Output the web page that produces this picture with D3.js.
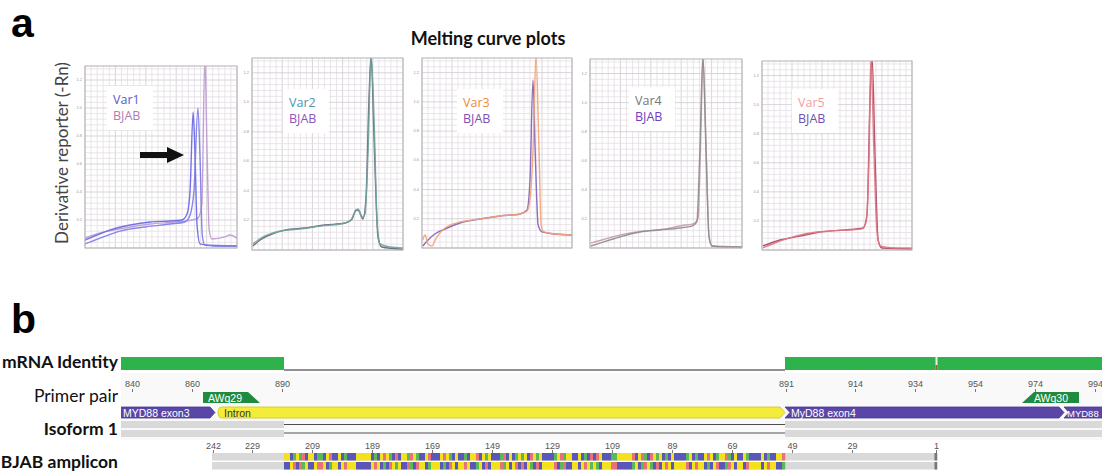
<!DOCTYPE html>
<html>
<head>
<meta charset="utf-8">
<script src="https://cdn.jsdelivr.net/npm/d3@7"></script>
<style>
body { margin: 0; background: #fff; }
svg { display: block; }
</style>
</head>
<body>
<svg id="fig" width="1102" height="472"></svg>
<script>
// ---------- panel a: melting curves, [temperature, -dRn] ----------
var var1A = [[60,0.057],[62.3,0.086],[65.8,0.129],[70.4,0.164],[75,0.186],[79.6,0.193],[82.3,0.2],[83.5,0.243],[84.2,0.414],[84.9,0.971],[85.3,0.7],[85.8,0.164],[86.5,0.029],[89.9,0.014],[95,0.014]];
var var1B = [[60,0.029],[63.5,0.071],[68.1,0.121],[73.8,0.15],[79.6,0.171],[83,0.186],[84.2,0.236],[85.1,0.414],[86,1.0],[86.5,0.629],[87,0.093],[87.6,0.021],[95,0.014]];
var bjab1 = [[60,0.071],[63.5,0.107],[69.2,0.143],[75,0.171],[80.7,0.186],[84.6,0.2],[86,0.214],[86.9,0.307],[87.6,1.36],[88.1,0.7],[88.6,0.129],[89.2,0.064],[92.2,0.079],[93.4,0.093],[95,0.071]];

var var2 = [[60.2,0.041],[61.4,0.068],[63,0.095],[66.5,0.129],[71.1,0.142],[75.8,0.162],[80.4,0.176],[82.7,0.196],[83.9,0.257],[84.6,0.278],[85.5,0.223],[86.2,0.244],[86.9,0.663],[87.6,1.32],[88.3,0.88],[89,0.19],[89.7,0.041],[92,0.02],[95,0.014]];
var bjab2 = [[60.2,0.027],[61.9,0.068],[64.2,0.102],[67.6,0.135],[72.3,0.149],[76.9,0.169],[81.6,0.183],[83.2,0.21],[84.1,0.271],[84.8,0.264],[85.7,0.21],[86.4,0.339],[87.1,1.01],[87.6,1.32],[88.3,0.745],[89.2,0.088],[90.1,0.02],[95,0.005]];

var var3 = [[60.2,0.055],[60.7,0.089],[61.4,0.027],[62.3,0.014],[63.3,0.068],[65.4,0.137],[68.9,0.178],[73.5,0.198],[78.2,0.219],[82.9,0.233],[84.5,0.253],[85.2,0.328],[85.9,0.67],[86.6,1.32],[87.3,0.67],[87.8,0.157],[88.5,0.11],[91,0.096],[95,0.089]];
var bjab3 = [[60.2,0.014],[61.4,0.055],[63,0.096],[65.4,0.13],[68.9,0.171],[73.5,0.198],[78.2,0.219],[82.9,0.233],[84.5,0.26],[85.2,0.465],[85.9,1.15],[86.4,0.67],[87.1,0.157],[88,0.11],[91,0.096],[95,0.089]];

var var4 = [[60.2,0.014],[62.3,0.034],[66.9,0.076],[71.5,0.11],[76.1,0.124],[80.7,0.138],[83.5,0.151],[84.6,0.179],[85.3,0.674],[86,1.32],[86.7,0.674],[87.4,0.089],[88.1,0.014],[91.1,0.007],[95,0.007]];
var bjab4 = [[60.2,0.034],[63.5,0.062],[68.1,0.096],[72.7,0.117],[77.3,0.131],[81.9,0.158],[83.7,0.165],[84.9,0.206],[85.6,0.88],[86,1.32],[86.7,0.74],[87.4,0.069],[88.1,0.014],[95,0.007]];

var var5 = [[60.2,0.014],[63,0.048],[66.5,0.083],[71.2,0.117],[75.9,0.131],[80.5,0.138],[83.3,0.145],[84.3,0.193],[85,0.688],[85.4,1.32],[86.1,0.688],[86.8,0.138],[87.5,0.028],[91,0.014],[95,0.014]];
var bjab5 = [[60.2,0.028],[64.2,0.069],[68.9,0.096],[73.5,0.124],[79.4,0.138],[83.6,0.151],[84.5,0.241],[85.2,1.03],[85.7,1.32],[86.4,0.62],[87.1,0.069],[88,0.014],[95,0.007]];

var sampleNames = ['Var1', 'Var2', 'Var3', 'Var4', 'Var5'];
var sampleCurves = [[var1A, var1B], [var2], [var3], [var4], [var5]];
var bjabCurves = [bjab1, bjab2, bjab3, bjab4, bjab5];
var yTickValues = [0.2, 0.4, 0.6, 0.8, 1.0, 1.2];

// ---------- panel b: alignment track ----------
var mrnaTicks = [840, 860, 890, 891, 914, 934, 954, 974, 994];
var ampliconTicks = [242, 229, 209, 189, 169, 149, 129, 109, 89, 69, 49, 29, 1];
var identityMismatch = [941];
var primerNames = ['AWq29', 'AWq30'];
var primerFrom = [864, 970];
var primerTo = [882, 988];
var featureNames = ['MYD88 exon3', 'Intron', 'MyD88 exon4', 'MYD88'];
var featureCols = [[-5, 32], [34, 222], [223, 315], [316, 340]];
var exonCols = [[-5, 55], [223, 340]];
var ampliconStart = 242, ampliconEnd = 1;
var ampliconSeq = 'GGCTGTACGGCTTCGACCGCTCCCGGGGGCTCGAGTCACGGTA' +
                  'GTCCGACCCGAGTCGCCTCGGACGTGCCCTACGCTGTGCAGT' +
                  'GCCCCTGATGGCCGCTCACAGCCCTTGGGGGACGATCAGTGC' +
                  'TCGCCCCTGCTCCGAGCTGGATCGCCGTCCCCGCTCCGGA';

// ---------- layout ----------
var svg = d3.select('#fig');
var boxes = [[85,66,237,248],[252,58,403,250],[422,58,572,248],[590,59,742,248],[762,61,912,250]];
var labelPos = [[113,104],[289,107],[463,107],[635,105],[798,107]];
var sampleColors = [['#6464e4','#7a7ae8'],['#6fa39a'],['#f2a274'],['#8c8c8c'],['#e07884']];
var bjabColors = ['#c2a2d6','#6e6e80','#8a6ec0','#caa6b6','#b0566e'];
var nameColors = ['#5a5ad0','#4f94b0','#ee8a3a','#777777','#f0a0a0'];
var bjabNameColors = ['#b47ab4','#8e55b8','#8050b0','#7040c0','#7050b0'];

svg.append('text').attr('x', 11).attr('y', 37)
    .style('font', 'bold 41px "Liberation Sans"').text('a');
svg.append('text').attr('x', 11).attr('y', 333)
    .style('font', 'bold 41px "Liberation Sans"').text('b');

svg.append('text').attr('x', 488).attr('y', 45).attr('text-anchor', 'middle')
    .style('font', 'bold 18px Lato').attr('fill', '#111').text('Melting curve plots');

svg.append('text')
    .attr('transform', 'translate(68,153) rotate(-90)')
    .attr('text-anchor', 'middle')
    .style('font', '17px Lato').attr('fill', '#444')
    .text('Derivative reporter (-Rn)');

var defs = svg.append('defs');

boxes.forEach(function(b, i){
    var x = d3.scaleLinear().domain([60, 95]).range([b[0], b[2]]);
    var y = d3.scaleLinear().domain([0, 1.3]).range([b[3], b[1]]);
    var g = svg.append('g');

    defs.append('clipPath').attr('id', 'clip' + i)
        .append('rect').attr('x', b[0]).attr('y', b[1])
        .attr('width', b[2] - b[0]).attr('height', b[3] - b[1]);

    g.append('rect').attr('x', b[0]).attr('y', b[1])
        .attr('width', b[2] - b[0]).attr('height', b[3] - b[1]).attr('fill', '#fff');

    // grid
    var xs = d3.range(0, 26).map(function(k){ return 60 + k * 1.4; });
    var ys = d3.range(0, 33).map(function(k){ return k * 0.04; });
    g.selectAll('.vg').data(xs).enter().append('line')
        .attr('x1', function(d){ return x(d); }).attr('x2', function(d){ return x(d); })
        .attr('y1', b[1]).attr('y2', b[3])
        .attr('stroke', function(d, k){ return k % 5 == 0 ? '#cfcacf' : '#e4dee4'; })
        .attr('stroke-width', 0.8);
    g.selectAll('.hg').data(ys).enter().append('line')
        .attr('y1', function(d){ return y(d); }).attr('y2', function(d){ return y(d); })
        .attr('x1', b[0]).attr('x2', b[2])
        .attr('stroke', function(d, k){ return k % 5 == 0 ? '#cfcacf' : '#e4dee4'; })
        .attr('stroke-width', 0.8);

    // tiny tick labels
    g.selectAll('.yl').data(yTickValues).enter().append('text')
        .attr('x', b[0] - 3).attr('y', function(d){ return y(d) + 1; })
        .attr('text-anchor', 'end')
        .style('font', '4px "Liberation Sans"').attr('fill', '#999')
        .text(function(d){ return d.toFixed(1); });

    // label block
    var lp = labelPos[i];
    g.append('rect').attr('x', lp[0] - 6).attr('y', lp[1] - 18)
        .attr('width', 46).attr('height', 44).attr('fill', '#fff');
    g.append('text').attr('x', lp[0]).attr('y', lp[1])
        .style('font', '12.5px "Open Sans"').attr('fill', nameColors[i]).text(sampleNames[i]);
    g.append('text').attr('x', lp[0]).attr('y', lp[1] + 16)
        .style('font', '12.5px "Open Sans"').attr('fill', bjabNameColors[i]).text('BJAB');

    var line = d3.line()
        .x(function(d){ return x(d[0]); })
        .y(function(d){ return y(d[1]); })
        .curve(d3.curveMonotoneX);

    var cg = g.append('g').attr('clip-path', 'url(#clip' + i + ')');
    cg.append('path').attr('d', line(bjabCurves[i]))
        .attr('fill', 'none').attr('stroke', bjabColors[i]).attr('stroke-width', 1.4);
    sampleCurves[i].forEach(function(c, k){
        cg.append('path').attr('d', line(c))
            .attr('fill', 'none').attr('stroke', sampleColors[i][k])
            .attr('stroke-width', 1.4).attr('stroke-opacity', 0.9);
    });

    g.append('rect').attr('x', b[0]).attr('y', b[1])
        .attr('width', b[2] - b[0]).attr('height', b[3] - b[1])
        .attr('fill', 'none').attr('stroke', '#b4b0b4').attr('stroke-width', 1);
});

// arrow in Var1 panel
svg.append('path')
    .attr('d', 'M140,152 L167,152 L167,147 L184,155 L167,163 L167,158 L140,158 Z')
    .attr('fill', '#111');

// ---------- panel b ----------
var gx = d3.scaleLinear().domain([0, 328]).range([116, 1100]);
var intronLen = 167;
function mrnaCol(p){ return p <= 890 ? p - 835 : p - 835 + intronLen; }
function ampCol(a){ return 274 - a; }
function cx(col){ return gx(col + 0.5); }

var tb = svg.append('g');
defs.append('clipPath').attr('id', 'trackclip')
    .append('rect').attr('x', 121).attr('y', 340).attr('width', 981).attr('height', 132);
var tr = tb.append('g').attr('clip-path', 'url(#trackclip)');

tr.append('rect').attr('x', 121).attr('y', 373).attr('width', 981).attr('height', 67).attr('fill', '#f9f9f9');

var rowLabels = [['mRNA Identity', 368, 'bold'], ['Primer pair', 402, 'normal'],
                 ['Isoform 1', 435, 'bold'], ['BJAB amplicon', 468, 'bold']];
tb.selectAll('.rl').data(rowLabels).enter().append('text')
    .attr('x', 118).attr('y', function(d){ return d[1]; })
    .attr('text-anchor', 'end')
    .style('font-family', 'Lato').style('font-size', '17.5px')
    .style('font-weight', function(d){ return d[2]; })
    .attr('fill', '#111')
    .text(function(d){ return d[0]; });

// mRNA identity
tr.append('line').attr('x1', gx(56)).attr('x2', gx(223)).attr('y1', 370).attr('y2', 370)
    .attr('stroke', '#222').attr('stroke-width', 1.2);
tr.selectAll('.idb').data(exonCols).enter().append('rect')
    .attr('x', function(d){ return gx(d[0]); })
    .attr('width', function(d){ return gx(d[1] + 1) - gx(d[0]); })
    .attr('y', 357).attr('height', 13).attr('fill', '#2eb24b');
identityMismatch.forEach(function(p){
    var c = mrnaCol(p);
    tr.append('rect').attr('x', gx(c) + 0.5).attr('width', 2).attr('y', 357).attr('height', 13).attr('fill', '#e8f4ea');
    tr.append('rect').attr('x', gx(c) + 0.5).attr('width', 2).attr('y', 365).attr('height', 5).attr('fill', '#b4532a');
});

// mRNA ruler
var mr = tr.selectAll('.mt').data(mrnaTicks).enter().append('g');
mr.append('text').attr('x', function(d){ return cx(mrnaCol(d)); }).attr('y', 387)
    .attr('text-anchor', 'middle').style('font', '9px "Liberation Sans"').attr('fill', '#555')
    .text(function(d){ return d; });
mr.append('line').attr('x1', function(d){ return cx(mrnaCol(d)); }).attr('x2', function(d){ return cx(mrnaCol(d)); })
    .attr('y1', 389).attr('y2', 392).attr('stroke', '#777');

// primers
primerNames.forEach(function(n, i){
    var x0 = gx(mrnaCol(primerFrom[i])), x1 = gx(mrnaCol(primerTo[i]) + 1);
    var y0 = 392, y1 = 403, s = 12;
    var d = i == 0
        ? 'M' + x0 + ',' + y0 + 'L' + (x1 - s) + ',' + y0 + 'L' + x1 + ',' + y1 + 'L' + x0 + ',' + y1 + 'Z'
        : 'M' + (x0 + s) + ',' + y0 + 'L' + x1 + ',' + y0 + 'L' + x1 + ',' + y1 + 'L' + x0 + ',' + y1 + 'Z';
    tr.append('path').attr('d', d).attr('fill', '#1f8b3e');
    tr.append('text').attr('x', x0 + (i == 0 ? 5 : 12)).attr('y', 401.5)
        .style('font', '10.5px "Liberation Sans"').attr('fill', '#fff').text(n);
});

// features
featureNames.forEach(function(n, i){
    var x0 = gx(featureCols[i][0]), x1 = gx(featureCols[i][1] + 1);
    var y0 = 407, y1 = 418, ym = 412.5, t = 5;
    var d, fill, stroke, tc;
    if (n == 'Intron') {
        d = 'M' + (x0 + 4) + ',' + y0 + 'L' + (x1 - t) + ',' + y0 + 'L' + x1 + ',' + ym + 'L' + (x1 - t) + ',' + y1 +
            'L' + (x0 + 4) + ',' + y1 + 'Q' + x0 + ',' + y1 + ' ' + x0 + ',' + ym + 'Q' + x0 + ',' + y0 + ' ' + (x0 + 4) + ',' + y0 + 'Z';
        fill = '#f4ec3a'; stroke = '#d2c40a'; tc = '#333';
    } else if (i == 0) {
        d = 'M' + x0 + ',' + y0 + 'L' + (x1 - t) + ',' + y0 + 'L' + x1 + ',' + ym + 'L' + (x1 - t) + ',' + y1 + 'L' + x0 + ',' + y1 + 'Z';
        fill = '#5a46a6'; stroke = '#4a3896'; tc = '#fff';
    } else {
        d = 'M' + x0 + ',' + y0 + 'L' + (x0 + t) + ',' + ym + 'L' + x0 + ',' + y1 +
            'L' + (x1 - t) + ',' + y1 + 'L' + x1 + ',' + ym + 'L' + (x1 - t) + ',' + y0 + 'Z';
        fill = '#5a46a6'; stroke = '#4a3896'; tc = '#fff';
    }
    var last = i == featureNames.length - 1;
    tr.append('path').attr('d', d).attr('fill', fill).attr('stroke', stroke).attr('stroke-width', 0.8);
    tr.append('text').attr('x', Math.max(x0, 121) + (i == 0 ? 2 : (last ? 3 : 6))).attr('y', 416.5)
        .style('font', (last ? '9.5px' : '10.5px') + ' "Liberation Sans"').attr('fill', tc).text(n);
});

// isoform 1
tr.append('line').attr('x1', gx(56)).attr('x2', gx(223)).attr('y1', 424.5).attr('y2', 424.5)
    .attr('stroke', '#222').attr('stroke-width', 0.8);
tr.append('line').attr('x1', gx(56)).attr('x2', gx(223)).attr('y1', 433).attr('y2', 433)
    .attr('stroke', '#888').attr('stroke-width', 1.6);
[421, 430].forEach(function(yy){
    tr.selectAll('.iso' + yy).data(exonCols).enter().append('rect')
        .attr('x', function(d){ return gx(d[0]); })
        .attr('width', function(d){ return gx(d[1] + 1) - gx(d[0]); })
        .attr('y', yy).attr('height', 7).attr('fill', '#d9d9d9');
});

// amplicon ruler
var ar = tr.selectAll('.at').data(ampliconTicks).enter().append('g');
ar.append('text').attr('x', function(d){ return cx(ampCol(d)); }).attr('y', 449)
    .attr('text-anchor', 'middle').style('font', '9px "Liberation Sans"').attr('fill', '#555')
    .text(function(d){ return d; });
ar.append('line').attr('x1', function(d){ return cx(ampCol(d)); }).attr('x2', function(d){ return cx(ampCol(d)); })
    .attr('y1', 450).attr('y2', 453).attr('stroke', '#777');

// amplicon bars
var baseColor = { G: '#f2e11c', C: '#5b57b8', T: '#5cb65a', A: '#e8727a' };
var complement = { G: 'C', C: 'G', A: 'T', T: 'A' };
var seqStart = ampCol(ampliconStart) + 24;
[[453, false], [462, true]].forEach(function(r){
    tr.append('rect').attr('x', gx(ampCol(ampliconStart))).attr('y', r[0])
        .attr('width', gx(ampCol(ampliconEnd) + 1) - gx(ampCol(ampliconStart))).attr('height', 7.5)
        .attr('fill', '#d9d9d9');
    tr.selectAll('.b' + r[0]).data(ampliconSeq.split('')).enter().append('rect')
        .attr('x', function(d, k){ return gx(seqStart + k); })
        .attr('width', gx(1) - gx(0) + 0.2)
        .attr('y', r[0]).attr('height', 7.5)
        .attr('fill', function(d){ return baseColor[r[1] ? complement[d] : d]; });
    tr.append('rect').attr('x', gx(ampCol(ampliconEnd)) - 0.5).attr('y', r[0])
        .attr('width', 2.5).attr('height', 7.5).attr('fill', '#777');
});
</script>
</body>
</html>
